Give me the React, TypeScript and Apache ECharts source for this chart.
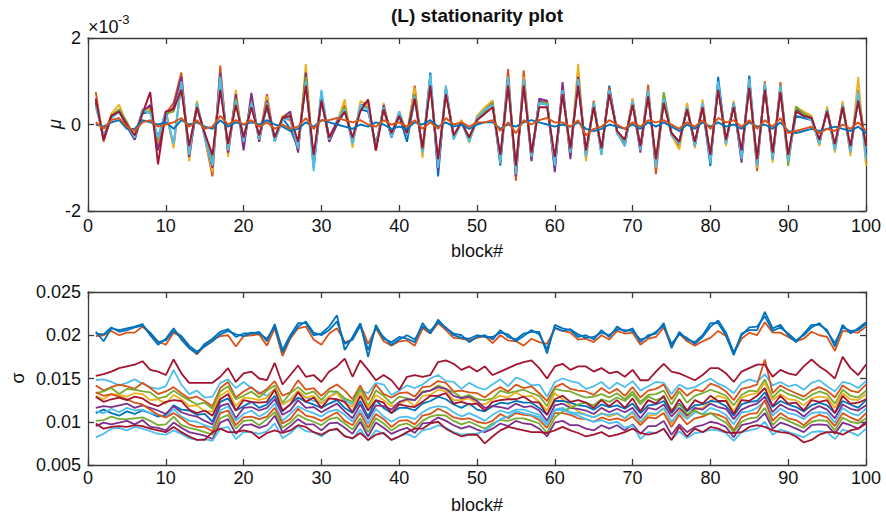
import React, { useEffect, useRef } from "react";
import * as echarts from "echarts";

// block numbers
const blocks = Array.from({ length: 100 }, (_, i) => i + 1);

// ---------- top panel: mu (units of 1e-3) ----------
const muBlue = [
  0.55, -0.35, 0.15, 0.3, -0.05, -0.35, 0.25, 0.3, -0.3, 0.3,
  -0.5, 0.95, -0.6, 0.45, -0.2, -0.85, 1.0, -0.6, 0.55, -0.3,
  0.45, -0.3, 0.4, -0.35, 0.15, -0.1, -0.55, 1.05, -0.95, 0.75,
  -0.35, 0.0, 0.3, -0.4, 0.35, 0.3, -0.45, 0.35, -0.3, 0.2,
  -0.4, 0.6, -0.6, 1.2, -1.2, 0.85, -0.3, 0.05, -0.35, 0.1,
  0.3, 0.5, -0.95, 1.0, -1.1, 0.95, -0.7, 0.55, 0.5, -1.0,
  0.75, -0.6, 1.0, -0.7, 0.5, -0.7, 0.9, -0.15, -0.45, 0.55,
  -0.55, 0.7, -0.9, 0.5, -0.2, -0.4, 0.35, -0.45, 0.4, -0.96,
  1.1, -0.4, 0.45, -0.8, 1.13, -0.9, 0.9, -0.75, 0.8, -0.8,
  0.2, 0.15, 0.1, -0.4, 0.3, -0.55, 0.4, -0.6, 0.8, -0.7,
];
const muOrange = [
  0.75, -0.4, 0.2, 0.35, 0.05, -0.3, 0.3, 0.4, -0.45, 0.25,
  0.5, 1.2, -0.7, 0.5, -0.3, -1.2, 1.36, -0.7, 0.6, -0.4,
  0.55, -0.35, 0.7, -0.4, 0.15, 0.1, -0.6, 1.2, -0.85, 0.6,
  -0.3, 0.05, 0.45, -0.45, 0.45, 0.4, -0.55, 0.4, -0.25, 0.3,
  -0.25, 0.9, -0.7, 1.0, -0.95, 0.8, -0.3, 0.1, -0.4, 0.15,
  0.35, 0.55, -0.9, 1.28, -1.3, 1.25, -0.8, 0.5, 0.55, -0.95,
  0.85, -0.7, 1.2, -0.75, 0.55, -0.65, 0.85, -0.2, -0.4, 0.6,
  -0.6, 0.92, -1.15, 0.6, -0.25, -0.5, 0.45, -0.5, 0.5, -0.8,
  0.9, -0.45, 0.5, -0.75, 1.0, -1.08, 1.0, -0.8, 0.98, -0.85,
  0.3, 0.2, 0.15, -0.45, 0.35, -0.6, 0.5, -0.65, 0.7, -0.5,
];
const muYellow = [
  0.6, -0.3, 0.25, 0.46, 0.0, -0.3, 0.35, 0.35, -0.5, 0.3,
  -0.55, 1.0, -0.85, 0.55, -0.3, -1.1, 1.2, -0.75, 0.8, -0.5,
  0.6, -0.4, 0.65, -0.4, 0.2, 0.25, -0.6, 1.4, -0.9, 0.7,
  -0.4, 0.05, 0.58, -0.54, 0.54, 0.45, -0.6, 0.5, -0.3, 0.3,
  -0.2, 0.85, -0.77, 1.1, -1.0, 0.9, -0.35, 0.1, -0.42, 0.2,
  0.4, 0.55, -0.8, 1.1, -1.2, 1.1, -0.75, 0.5, 0.5, -1.0,
  0.8, -0.75, 1.4, -0.85, 0.5, -0.7, 0.8, -0.2, -0.45, 0.6,
  -0.6, 0.8, -1.0, 0.7, -0.25, -0.58, 0.5, -0.55, 0.58, -0.8,
  0.9, -0.5, 0.55, -0.7, 1.0, -1.0, 0.95, -0.88, 0.85, -0.85,
  0.4, 0.3, 0.2, -0.5, 0.42, -0.65, 0.54, -0.73, 1.1, -0.96,
];
const muPurple = [
  0.5, -0.35, 0.2, 0.3, 0.0, -0.35, 0.3, 0.45, -0.6, 0.2,
  0.4, 1.1, -0.75, 0.4, -0.25, -1.0, 1.2, -0.65, 0.7, -0.6,
  0.73, -0.4, 0.55, -0.35, 0.15, 0.3, -0.65, 1.2, -1.0, 0.6,
  -0.4, 0.0, 0.4, -0.4, 0.4, 0.55, -0.6, 0.45, -0.3, 0.25,
  -0.25, 0.7, -0.6, 1.0, -1.05, 0.8, -0.3, 0.05, -0.3, 0.1,
  0.3, 0.5, -0.85, 1.1, -1.2, 1.0, -0.85, 0.6, 0.55, -1.1,
  0.98, -0.8, 1.1, -0.7, 0.45, -0.6, 0.8, -0.15, -0.5, 0.5,
  -0.65, 0.75, -0.95, 0.6, -0.2, -0.4, 0.4, -0.5, 0.45, -0.85,
  0.9, -0.4, 0.5, -0.88, 1.0, -0.95, 0.9, -0.8, 0.85, -0.8,
  0.35, 0.25, 0.15, -0.4, 0.35, -0.55, 0.45, -0.6, 0.6, -0.6,
];
const muGreen = [
  0.45, -0.3, 0.2, 0.35, 0.05, -0.3, 0.3, 0.3, -0.35, 0.25,
  0.3, 0.9, -0.6, 0.45, -0.25, -0.9, 1.0, -0.5, 0.6, -0.35,
  0.5, -0.3, 0.5, -0.3, 0.15, 0.2, -0.5, 1.1, -0.8, 0.55,
  -0.3, 0.05, 0.4, -0.35, 0.4, 0.4, -0.5, 0.4, -0.25, 0.25,
  -0.2, 0.7, -0.6, 0.95, -0.9, 0.75, -0.3, 0.05, -0.3, 0.15,
  0.3, 0.5, -0.8, 1.0, -1.0, 1.0, -0.7, 0.5, 0.5, -0.85,
  0.75, -0.6, 1.0, -0.65, 0.5, -0.6, 0.75, -0.15, -0.4, 0.5,
  -0.5, 0.7, -0.85, 0.75, -0.2, -0.45, 0.4, -0.45, 0.45, -0.75,
  0.85, -0.4, 0.45, -0.7, 0.9, -0.85, 0.85, -0.7, 0.8, -0.96,
  0.42, 0.25, 0.15, -0.45, 0.35, -0.5, 0.4, -0.55, 0.6, -0.55,
];
const muCyan = [
  0.4, -0.25, 0.15, 0.3, 0.0, -0.3, 0.35, 0.25, -0.3, 0.3,
  -0.45, 1.0, -0.7, 0.5, -0.3, -0.95, 1.1, -0.6, 0.55, -0.4,
  0.5, -0.35, 0.5, -0.4, 0.1, 0.15, -0.55, 1.0, -1.08, 0.8,
  -0.35, 0.1, 0.35, -0.45, 0.45, 0.35, -0.55, 0.4, -0.3, 0.3,
  -0.25, 0.65, -0.65, 1.15, -1.0, 0.9, -0.35, 0.05, -0.4, 0.15,
  0.35, 0.45, -0.9, 1.1, -1.15, 1.05, -0.75, 0.5, 0.45, -0.95,
  0.8, -0.65, 1.05, -0.75, 0.5, -0.7, 0.8, -0.2, -0.5, 0.55,
  -0.6, 0.8, -1.0, 0.6, -0.25, -0.45, 0.4, -0.5, 0.5, -0.9,
  1.0, -0.45, 0.5, -0.8, 1.05, -0.95, 0.95, -0.8, 0.9, -0.85,
  0.3, 0.2, 0.1, -0.45, 0.35, -0.6, 0.45, -0.65, 0.75, -0.8,
];
const muDarkRed = [
  0.6, -0.35, 0.2, 0.3, 0.0, -0.25, 0.25, 0.75, -0.92, 0.3,
  0.35, 0.8, -0.5, 0.4, -0.2, -0.7, 0.8, -0.45, 0.45, -0.3,
  0.4, -0.25, 0.45, -0.3, 0.15, 0.2, -0.4, 0.9, -0.7, 0.55,
  -0.3, 0.05, 0.3, -0.3, 0.3, 0.58, -0.6, 0.35, -0.2, 0.2,
  -0.2, 0.6, -0.55, 0.9, -0.8, 0.7, -0.25, 0.05, -0.3, 0.1,
  0.25, 0.4, -0.7, 0.9, -0.95, 0.9, -0.65, 0.4, 0.4, -0.75,
  0.7, -0.55, 0.9, -0.6, 0.4, -0.55, 0.7, -0.15, -0.35, 0.45,
  -0.5, 0.65, -0.8, 0.5, -0.2, -0.4, 0.35, -0.4, 0.4, -0.7,
  0.8, -0.35, 0.4, -0.6, 0.85, -0.8, 0.8, -0.65, 0.75, -0.7,
  0.3, 0.2, 0.15, -0.35, 0.3, -0.45, 0.4, -0.5, 0.55, -0.5,
];
const muFlatRed = [
  0.05, -0.1, 0.1, 0.15, -0.05, -0.15, 0.05, 0.1, -0.05, 0.0,
  0.05, 0.15, -0.05, 0.1, -0.1, -0.05, 0.2, 0.0, 0.1, 0.0,
  0.1, -0.05, 0.05, -0.1, 0.0, -0.1, -0.05, 0.15, -0.1, 0.1,
  0.1, 0.15, 0.1, 0.05, 0.1, 0.0, -0.05, 0.1, 0.0, 0.05,
  -0.05, 0.1, -0.1, 0.05, -0.1, 0.15, 0.0, 0.05, -0.05, 0.05,
  0.05, 0.1, -0.15, 0.05, -0.2, 0.1, 0.0, 0.1, 0.15, 0.05,
  0.05, -0.05, 0.1, -0.25, -0.1, -0.05, 0.1, 0.0, -0.1, 0.05,
  -0.05, 0.1, 0.05, 0.1, 0.0, -0.1, 0.05, -0.05, 0.1, -0.1,
  0.15, 0.05, 0.1, -0.05, 0.1, -0.1, 0.1, -0.05, 0.15, -0.2,
  -0.15, -0.1, -0.05, -0.2, -0.1, -0.15, 0.0, -0.1, 0.05, -0.15,
];
const muFlatBlue = [
  0.0, -0.05, 0.05, 0.1, -0.1, -0.1, 0.1, 0.05, 0.0, 0.05,
  -0.1, 0.1, 0.0, 0.05, -0.05, -0.1, 0.1, -0.05, 0.05, 0.0,
  0.05, 0.0, 0.1, 0.0, -0.05, -0.15, -0.1, 0.05, -0.05, 0.1,
  0.05, 0.0, -0.05, -0.1, 0.0, -0.05, 0.05, 0.0, -0.1, -0.05,
  -0.1, 0.05, 0.0, 0.1, -0.05, 0.05, -0.05, 0.0, -0.1, 0.0,
  0.05, 0.05, -0.1, 0.0, -0.05, 0.05, 0.1, 0.05, 0.0, -0.05,
  0.0, -0.05, 0.05, -0.1, -0.15, -0.1, 0.0, -0.05, -0.1, 0.0,
  -0.1, 0.05, -0.05, 0.05, -0.05, -0.15, 0.0, -0.1, 0.05, -0.05,
  0.05, -0.05, 0.0, -0.1, 0.05, -0.05, 0.0, -0.1, 0.05, -0.15,
  -0.2, -0.15, -0.1, -0.15, -0.1, -0.05, -0.1, -0.15, -0.05, -0.2,
];

// ---------- bottom panel: sigma (units of 1e-3) ----------
const sigBlueA = [
  20.4, 19.3, 20.8, 20.6, 20.8, 21.0, 21.3, 20.0, 18.9, 19.6,
  20.8, 19.5, 18.5, 17.9, 19.0, 19.6, 20.4, 20.7, 19.8, 20.2,
  20.2, 20.4, 19.3, 21.3, 18.3, 20.0, 21.4, 21.4, 20.0, 20.2,
  21.0, 22.3, 18.3, 19.8, 21.4, 17.5, 21.2, 19.6, 19.2, 19.8,
  19.6, 19.2, 21.4, 20.2, 21.8, 20.8, 20.2, 20.0, 19.2, 19.8,
  20.0, 19.5, 20.6, 19.8, 19.5, 20.2, 20.4, 20.4, 17.9, 21.2,
  20.8, 20.6, 19.8, 20.0, 19.5, 20.6, 19.8, 21.0, 20.4, 20.8,
  19.2, 20.0, 20.2, 21.4, 18.5, 20.4, 19.5, 19.2, 20.0, 21.4,
  21.4, 20.0, 17.7, 20.2, 20.6, 20.6, 22.7, 20.8, 21.2, 20.0,
  19.2, 20.2, 21.2, 21.2, 20.6, 18.7, 21.2, 20.2, 20.8, 21.5,
];
const sigBlueB = [
  20.2, 20.1, 20.9, 20.4, 20.6, 20.9, 21.1, 20.3, 19.2, 19.4,
  20.5, 19.9, 18.8, 18.1, 18.7, 19.3, 20.1, 20.5, 20.1, 19.9,
  20.3, 20.2, 19.6, 21.0, 18.0, 19.8, 21.0, 21.6, 20.3, 20.0,
  20.6, 21.6, 19.0, 19.5, 21.1, 18.3, 20.9, 19.8, 18.9, 19.5,
  20.0, 19.5, 21.0, 20.5, 21.5, 20.9, 20.0, 19.7, 19.6, 20.0,
  19.8, 19.8, 20.3, 20.1, 19.3, 19.9, 20.6, 20.1, 18.4, 20.9,
  20.5, 20.7, 20.1, 19.7, 19.8, 20.3, 20.0, 20.7, 20.6, 20.5,
  19.5, 19.8, 20.4, 21.1, 19.0, 20.1, 19.7, 19.0, 19.8, 21.0,
  21.7, 20.3, 18.0, 20.0, 20.9, 21.0, 22.2, 20.5, 20.9, 20.2,
  19.4, 20.0, 20.9, 21.4, 20.4, 19.1, 20.9, 20.5, 20.6, 21.3,
];
const sigOrangeTop = [
  19.9, 20.0, 20.5, 20.0, 20.3, 20.3, 21.0, 20.2, 19.3, 18.9,
  20.3, 19.8, 18.6, 17.8, 18.8, 19.5, 19.9, 20.0, 18.7, 19.9,
  20.0, 20.1, 18.8, 20.8, 17.6, 19.6, 20.8, 21.0, 19.5, 18.9,
  20.2, 20.8, 19.2, 19.5, 21.3, 19.0, 20.8, 19.3, 18.8, 19.3,
  19.4, 18.8, 20.8, 20.2, 21.4, 20.6, 19.7, 19.6, 19.4, 19.7,
  19.9, 19.1, 20.0, 19.4, 19.3, 18.8, 19.6, 19.2, 19.0, 20.8,
  20.5, 20.3, 19.5, 19.6, 19.2, 20.0, 19.5, 20.5, 20.2, 20.3,
  18.9, 19.6, 19.8, 20.9, 18.7, 20.2, 19.3, 18.8, 19.3, 19.7,
  20.5, 19.9, 17.9, 19.6, 20.3, 20.0, 21.5, 20.3, 20.3, 19.8,
  19.3, 19.6, 20.4, 20.0, 19.8, 18.2, 20.5, 20.4, 20.3, 21.0,
];
const sigRedHigh = [
  15.3, 15.5, 15.8, 16.2, 16.4, 16.6, 17.0, 16.0, 15.8, 15.4,
  17.2, 15.6, 14.5, 14.5, 14.5, 14.5, 15.2, 16.2, 14.6, 15.6,
  15.8, 15.0, 14.8, 16.8, 14.3, 15.4, 16.5, 15.2, 15.4, 14.6,
  15.8, 16.4, 17.3, 15.2, 17.1, 16.0, 14.8, 15.4, 14.8, 13.7,
  15.2, 15.4, 15.2, 15.4, 16.9, 17.1, 16.7, 16.0, 16.4, 15.8,
  16.4, 15.4, 15.8, 16.2, 16.6, 16.9, 17.1, 16.2, 15.0, 16.4,
  16.7, 16.0, 16.4, 16.4, 15.8, 16.2, 15.6, 15.8, 15.2, 16.0,
  14.8, 14.8, 15.8, 16.7, 15.8, 15.6, 15.2, 14.8, 15.4, 16.2,
  16.2, 15.6, 14.6, 15.8, 16.2, 16.6, 16.6, 15.2, 16.0, 15.6,
  15.4, 16.4, 17.2, 16.4, 15.8, 15.0, 17.5, 16.2, 15.4, 16.6,
];
const sigCyanA = [
  14.8, 14.9, 14.6, 14.2, 14.5, 14.9, 14.4, 14.0, 13.8, 14.1,
  16.0, 14.3, 13.2, 13.6, 12.8, 12.9, 14.5, 14.9, 13.9, 14.6,
  13.9, 13.4, 13.0, 13.8, 12.0, 12.6, 13.5, 12.8, 12.4, 12.2,
  12.9, 13.5, 12.5, 12.0, 13.6, 13.3, 14.5, 14.3, 13.1, 13.6,
  14.2, 13.9, 14.3, 15.0, 15.4, 14.7, 14.6, 13.8, 14.5, 14.0,
  13.7, 14.3, 14.9, 14.1, 15.1, 14.8, 14.2, 14.3, 12.9, 14.6,
  15.0, 14.7, 14.5, 13.8, 14.1, 14.6, 13.8, 14.5, 14.0, 14.7,
  13.6, 14.1, 14.6, 14.5, 13.2, 14.3, 13.8, 14.0, 14.5, 15.0,
  14.4, 14.0, 13.3, 14.5, 14.9, 14.6, 15.5, 14.2, 14.6, 14.1,
  14.3, 13.7, 14.5, 14.8, 14.1, 13.5, 14.6, 14.4, 13.9, 14.7,
];
const sigOrangeA = [
  14.2, 13.6, 14.0, 14.3, 14.1, 13.8, 14.5, 13.9, 13.2, 13.5,
  14.0, 13.3, 12.7, 12.9, 12.4, 11.8, 13.9, 14.6, 12.8, 13.5,
  14.0, 13.2, 13.8, 14.7, 13.0, 13.4, 14.8, 13.7, 13.9, 13.0,
  13.8, 14.3, 13.6, 12.6, 14.2, 12.5, 14.3, 13.2, 12.8, 13.3,
  13.4, 12.9, 14.0, 14.1, 14.7, 14.5, 13.5, 13.6, 13.4, 13.3,
  12.8, 13.5, 14.0, 13.5, 14.3, 13.9, 14.1, 13.3, 12.4, 14.0,
  14.4, 13.8, 13.6, 13.5, 13.1, 13.9, 13.3, 13.8, 13.0, 14.0,
  12.8, 13.6, 13.8, 14.3, 12.6, 13.9, 13.0, 13.7, 13.5, 14.4,
  14.1, 13.5, 12.5, 13.8, 14.0, 14.3, 17.2, 13.3, 14.2, 13.7,
  13.3, 12.9, 13.6, 14.0, 13.6, 12.8, 14.2, 13.6, 13.4, 14.3,
];
const sigGreenA = [
  13.3, 13.5, 13.9, 13.2, 13.8, 13.7, 13.5, 13.4, 12.7, 12.9,
  13.6, 13.0, 12.5, 12.0, 12.2, 11.5, 13.5, 14.1, 12.6, 13.0,
  13.5, 12.8, 13.6, 14.2, 12.2, 13.3, 14.0, 13.2, 13.5, 12.5,
  13.5, 13.5, 12.7, 12.3, 13.9, 11.8, 13.6, 13.0, 12.1, 12.9,
  12.7, 12.5, 13.5, 13.6, 14.2, 13.8, 13.4, 12.8, 13.1, 12.6,
  12.5, 12.7, 13.6, 13.3, 13.5, 13.7, 13.3, 13.0, 11.8, 13.8,
  13.6, 13.5, 13.1, 12.8, 12.9, 13.2, 12.8, 13.3, 12.6, 13.5,
  12.3, 13.1, 13.2, 13.6, 12.0, 13.5, 12.2, 13.0, 13.3, 13.7,
  13.4, 13.0, 11.9, 13.1, 13.6, 13.5, 14.9, 12.8, 13.7, 13.2,
  12.9, 12.5, 13.1, 13.5, 13.2, 12.1, 13.7, 13.0, 12.8, 13.6,
];
const sigYellowA = [
  13.0, 12.6, 13.2, 13.1, 12.9, 13.3, 13.2, 12.5, 12.6, 12.1,
  13.1, 12.6, 11.8, 11.9, 11.2, 11.2, 13.0, 13.6, 11.8, 12.8,
  12.7, 12.5, 12.8, 13.8, 12.0, 12.5, 13.6, 12.8, 13.0, 12.1,
  12.9, 13.3, 12.2, 11.7, 13.4, 11.6, 13.1, 12.5, 11.8, 12.1,
  12.5, 11.8, 13.0, 13.1, 13.7, 13.5, 12.5, 12.5, 12.7, 12.1,
  12.0, 12.6, 13.0, 12.8, 13.4, 12.9, 13.0, 12.3, 11.3, 13.3,
  12.6, 11.9, 11.2, 10.8, 10.5, 11.0, 10.6, 10.9, 10.4, 11.0,
  9.9, 10.7, 10.8, 11.5, 9.8, 11.3, 10.5, 11.4, 11.6, 12.4,
  13.0, 12.7, 11.2, 12.8, 13.1, 13.3, 14.5, 12.5, 13.2, 12.6,
  12.5, 11.9, 12.7, 12.9, 12.8, 11.6, 13.3, 12.6, 12.5, 13.2,
];
const sigRedMid = [
  12.9, 12.3, 12.6, 12.8, 12.5, 12.9, 12.7, 12.1, 11.8, 12.3,
  12.5, 12.4, 11.4, 11.0, 11.3, 10.7, 12.6, 13.2, 11.3, 12.5,
  12.3, 12.2, 12.3, 13.7, 11.3, 12.0, 13.4, 12.3, 12.8, 11.6,
  12.7, 12.6, 12.3, 11.1, 13.0, 11.3, 12.5, 12.2, 11.0, 12.0,
  11.8, 11.7, 12.3, 13.0, 13.0, 13.3, 12.1, 12.3, 12.0, 12.1,
  11.3, 12.3, 12.5, 12.6, 12.6, 12.9, 12.3, 12.2, 10.8, 12.6,
  13.0, 12.3, 12.5, 12.2, 11.6, 12.5, 11.8, 12.5, 11.6, 12.7,
  11.2, 12.5, 12.1, 13.0, 11.1, 12.6, 11.3, 12.5, 12.1, 13.0,
  12.4, 12.4, 10.9, 12.5, 12.4, 13.0, 13.9, 11.8, 13.0, 12.1,
  12.2, 11.3, 12.5, 12.3, 12.5, 11.0, 13.0, 12.1, 12.2, 12.6,
];
const sigBlueMid = [
  11.0, 11.4, 11.0, 10.7, 11.2, 10.9, 11.3, 11.0, 10.6, 10.8,
  11.9, 11.4, 11.3, 10.8, 10.9, 10.0, 12.3, 12.7, 11.3, 11.8,
  12.3, 11.6, 12.0, 13.0, 11.2, 12.0, 12.8, 12.3, 12.0, 11.6,
  12.1, 12.5, 11.6, 11.0, 12.4, 10.6, 12.5, 11.6, 11.0, 11.6,
  11.6, 11.3, 12.1, 12.4, 12.9, 12.6, 12.0, 11.6, 12.1, 11.4,
  11.2, 11.8, 12.2, 12.1, 12.4, 12.2, 12.2, 11.6, 10.8, 12.4,
  12.4, 12.2, 11.9, 11.8, 11.4, 12.0, 11.7, 11.9, 11.5, 12.1,
  11.0, 11.9, 12.0, 12.4, 11.0, 12.1, 11.2, 11.9, 12.0, 12.4,
  12.3, 11.8, 10.7, 12.0, 12.3, 12.4, 13.4, 11.7, 12.4, 12.0,
  11.7, 11.2, 11.9, 12.2, 11.9, 11.0, 12.4, 12.0, 11.6, 12.5,
];
const sigPurpleA = [
  11.6, 11.8, 11.7, 11.9, 12.1, 11.6, 11.9, 11.6, 11.3, 10.9,
  11.8, 11.1, 10.8, 10.6, 10.1, 9.7, 11.8, 12.1, 10.4, 11.6,
  11.7, 11.3, 11.6, 12.6, 10.8, 11.3, 12.5, 11.6, 11.7, 11.1,
  11.6, 12.1, 11.2, 10.4, 12.0, 10.3, 11.9, 11.8, 11.4, 12.3,
  12.6, 12.5, 13.4, 13.6, 14.0, 13.8, 13.0, 12.7, 12.9, 12.4,
  11.6, 11.8, 11.7, 11.5, 12.1, 11.7, 11.8, 11.3, 10.1, 11.9,
  12.1, 11.6, 11.5, 11.3, 10.9, 11.6, 11.1, 11.5, 11.1, 11.6,
  10.4, 11.6, 11.4, 12.0, 10.6, 11.6, 10.7, 11.6, 11.4, 12.1,
  11.7, 11.5, 10.3, 11.4, 11.8, 12.1, 12.9, 11.1, 12.0, 11.5,
  11.3, 10.6, 11.4, 11.8, 11.4, 10.4, 12.0, 11.5, 11.3, 11.9,
];
const sigCyanB = [
  11.2, 11.0, 11.5, 11.1, 11.6, 11.3, 11.4, 11.0, 10.8, 10.5,
  11.5, 10.6, 10.1, 10.0, 9.6, 9.3, 11.3, 11.8, 10.1, 10.9,
  11.3, 10.6, 11.1, 12.1, 10.1, 10.9, 11.8, 11.3, 11.0, 10.6,
  11.2, 11.4, 10.8, 10.0, 11.4, 9.8, 11.5, 10.6, 10.0, 10.5,
  10.6, 10.3, 11.1, 11.6, 11.8, 11.7, 11.1, 10.6, 11.0, 10.6,
  10.1, 10.8, 11.3, 11.0, 11.4, 11.4, 11.1, 10.8, 9.8, 11.4,
  11.6, 11.1, 11.0, 10.8, 10.5, 10.9, 10.8, 11.0, 10.4, 11.2,
  10.0, 11.0, 10.9, 11.6, 10.0, 11.1, 10.3, 11.1, 10.9, 11.6,
  11.3, 10.8, 9.7, 11.1, 11.2, 11.6, 12.4, 10.7, 11.5, 11.0,
  10.8, 10.3, 11.0, 11.1, 11.0, 9.9, 11.6, 11.0, 10.7, 11.5,
];
const sigOrangeB = [
  13.4, 13.0, 13.2, 12.9, 12.6, 12.2, 12.0, 11.4, 10.8, 10.5,
  11.0, 10.4, 9.7, 9.4, 9.4, 8.9, 11.0, 11.3, 9.6, 10.5,
  10.6, 10.3, 10.6, 11.6, 9.8, 10.3, 11.5, 10.7, 10.5, 10.1,
  10.6, 11.1, 10.1, 9.6, 11.0, 9.3, 10.9, 10.3, 9.4, 10.1,
  10.2, 9.7, 10.7, 10.9, 11.5, 11.1, 10.5, 10.3, 10.4, 10.0,
  9.8, 10.1, 10.9, 10.4, 11.0, 10.8, 10.7, 10.2, 9.3, 11.0,
  11.0, 10.8, 10.4, 10.3, 10.0, 10.5, 10.2, 10.4, 10.1, 10.6,
  9.6, 10.5, 10.4, 11.0, 9.4, 10.8, 9.7, 10.4, 10.6, 11.0,
  10.8, 10.4, 9.0, 10.5, 10.9, 11.0, 12.5, 10.1, 11.0, 10.4,
  10.2, 9.6, 10.4, 10.8, 10.5, 9.5, 11.0, 10.5, 10.1, 11.0,
];
const sigGreenB = [
  10.1, 10.2, 10.6, 10.3, 10.3, 10.4, 10.5, 10.1, 9.6, 9.7,
  10.6, 9.6, 9.3, 9.1, 8.8, 8.5, 10.4, 10.8, 9.2, 10.1,
  10.2, 9.6, 10.3, 11.1, 9.3, 9.9, 10.8, 10.3, 10.0, 9.6,
  10.3, 10.5, 9.8, 9.1, 10.4, 8.8, 10.4, 9.8, 9.0, 9.6,
  9.8, 9.3, 10.1, 10.6, 10.8, 10.7, 10.1, 9.7, 10.0, 9.6,
  9.2, 9.8, 10.2, 10.1, 10.4, 10.4, 10.1, 9.8, 8.7, 10.5,
  11.2, 11.6, 12.0, 12.2, 11.9, 12.6, 12.3, 12.8, 12.4, 13.2,
  12.0, 12.9, 12.5, 12.8, 11.4, 12.0, 10.9, 11.3, 10.8, 11.0,
  10.4, 9.9, 8.8, 10.0, 10.4, 10.5, 11.6, 9.6, 10.5, 10.1,
  9.7, 9.3, 10.0, 10.2, 10.1, 9.0, 10.5, 10.0, 9.8, 10.4,
];
const sigPurpleB = [
  9.5, 9.9, 9.7, 9.9, 10.1, 9.7, 10.2, 9.4, 9.3, 9.0,
  9.9, 9.3, 8.8, 8.6, 8.4, 8.0, 9.9, 10.3, 8.6, 9.6,
  9.7, 9.3, 9.6, 10.7, 8.8, 9.5, 10.3, 9.7, 9.7, 9.0,
  9.8, 9.9, 9.3, 8.6, 10.0, 8.3, 9.9, 9.3, 8.6, 9.0,
  9.3, 8.7, 9.8, 9.9, 10.5, 10.1, 9.6, 9.2, 9.5, 9.1,
  8.8, 9.2, 9.8, 9.5, 10.1, 9.8, 9.7, 9.2, 8.3, 9.9,
  10.1, 9.6, 9.6, 9.2, 9.0, 9.6, 9.2, 9.6, 9.0, 9.7,
  8.6, 9.5, 9.5, 10.1, 8.5, 9.7, 8.8, 9.4, 9.6, 10.0,
  9.8, 9.4, 8.2, 9.6, 9.8, 10.1, 11.0, 9.2, 9.9, 9.6,
  9.2, 8.8, 9.6, 9.7, 9.6, 8.6, 9.9, 9.6, 9.2, 10.0,
];
const sigCyanC = [
  8.2, 8.6, 9.2, 9.3, 9.0, 9.4, 9.2, 8.9, 8.6, 8.5,
  9.0, 8.6, 8.1, 7.9, 8.0, 7.8, 9.2, 9.4, 8.0, 8.8,
  8.8, 8.6, 8.9, 9.8, 8.1, 8.7, 9.5, 8.9, 8.8, 8.3,
  9.0, 9.1, 8.4, 8.0, 9.2, 7.8, 9.0, 8.6, 7.9, 8.3,
  8.6, 8.2, 9.0, 9.2, 9.6, 9.3, 8.8, 8.5, 8.6, 8.6,
  9.0, 9.6, 10.3, 10.6, 11.2, 11.0, 10.8, 10.5, 9.6, 11.3,
  11.4, 11.0, 10.7, 10.3, 10.0, 10.2, 9.8, 10.0, 9.3, 9.6,
  8.0, 8.8, 8.7, 9.2, 7.9, 8.9, 8.1, 8.7, 8.8, 9.1,
  9.0, 8.7, 7.8, 8.8, 9.0, 9.2, 10.0, 8.5, 9.1, 8.8,
  8.5, 8.2, 8.8, 8.9, 8.8, 8.0, 9.1, 8.8, 8.4, 9.2,
];
const sigRedLow = [
  9.8, 9.2, 9.4, 9.5, 9.4, 9.6, 9.5, 9.2, 9.0, 8.8,
  9.4, 8.8, 8.3, 7.9, 7.9, 8.8, 9.2, 8.8, 8.8, 9.0,
  8.8, 8.1, 8.7, 9.0, 8.7, 9.0, 9.6, 9.4, 8.8, 8.5,
  9.0, 9.2, 8.3, 8.1, 8.7, 7.9, 8.5, 8.7, 7.9, 8.3,
  8.8, 9.2, 9.2, 9.8, 10.0, 9.2, 8.7, 8.3, 8.5, 8.5,
  7.5, 8.3, 9.0, 9.4, 9.2, 9.0, 8.8, 8.8, 8.7, 9.0,
  9.4, 9.0, 8.7, 8.3, 8.5, 8.8, 8.3, 8.5, 8.8, 9.2,
  8.7, 8.5, 8.7, 9.2, 7.9, 9.4, 8.3, 9.2, 8.8, 9.4,
  9.2, 8.8, 8.7, 8.8, 9.4, 9.6, 9.4, 9.0, 8.8, 8.7,
  8.3, 7.6, 7.9, 8.5, 8.8, 8.8, 8.5, 9.0, 9.2, 9.8,
];

const C_BLUE = "#0072BD";
const C_ORANGE = "#D95319";
const C_YELLOW = "#EDB120";
const C_PURPLE = "#7E2F8E";
const C_GREEN = "#77AC30";
const C_CYAN = "#4DBEEE";
const C_RED = "#A2142F";

const muSeries: [number[], string][] = [
  [muBlue, C_BLUE],
  [muOrange, C_ORANGE],
  [muYellow, C_YELLOW],
  [muPurple, C_PURPLE],
  [muGreen, C_GREEN],
  [muCyan, C_CYAN],
  [muDarkRed, C_RED],
  [muFlatBlue, C_BLUE],
  [muFlatRed, C_ORANGE],
];
const sigmaSeries: [number[], string][] = [
  [sigCyanA, C_CYAN],
  [sigOrangeA, C_ORANGE],
  [sigGreenA, C_GREEN],
  [sigYellowA, C_YELLOW],
  [sigBlueMid, C_BLUE],
  [sigPurpleA, C_PURPLE],
  [sigCyanB, C_CYAN],
  [sigOrangeB, C_ORANGE],
  [sigGreenB, C_GREEN],
  [sigPurpleB, C_PURPLE],
  [sigCyanC, C_CYAN],
  [sigRedMid, C_RED],
  [sigRedHigh, C_RED],
  [sigRedLow, C_RED],
  [sigOrangeTop, C_ORANGE],
  [sigBlueB, C_BLUE],
  [sigBlueA, C_BLUE],
];

const FONT = "'Liberation Sans', Arial, Helvetica, sans-serif";
const AX = "#3a3a3a";

function boxAxes(grid: number, min: number, max: number, interval: number, kind: "x" | "y", labelMargin: number, fmt?: (v: number) => string) {
  const common = {
    gridIndex: grid,
    type: "value",
    min,
    max,
    interval,
    splitLine: { show: false },
    axisLine: { show: true, onZero: false, lineStyle: { color: AX, width: 1.3 } },
    axisTick: { show: true, inside: true, length: 6, lineStyle: { color: AX, width: 1.3 } },
  };
  const main = {
    ...common,
    position: kind === "x" ? "bottom" : "left",
    axisLabel: {
      show: true,
      margin: labelMargin,
      color: "#111",
      fontSize: 18,
      fontFamily: FONT,
      formatter: fmt,
    },
  };
  const mirror = {
    ...common,
    position: kind === "x" ? "top" : "right",
    axisLabel: { show: false },
  };
  return [main, mirror];
}

export default function App() {
  const ref = useRef<HTMLDivElement>(null);
  useEffect(() => {
    if (!ref.current) return;
    const chart = echarts.init(ref.current, undefined, { renderer: "svg" });

    const series: any[] = [];
    muSeries.forEach(([arr, color]) => {
      series.push({
        type: "line",
        xAxisIndex: 0,
        yAxisIndex: 0,
        data: blocks.map((b, i) => [b, arr[i]]),
        showSymbol: false,
        symbol: "none",
        lineStyle: { color, width: 1.9 },
        silent: true,
      });
    });
    sigmaSeries.forEach(([arr, color]) => {
      series.push({
        type: "line",
        xAxisIndex: 2,
        yAxisIndex: 2,
        data: blocks.map((b, i) => [b, arr[i]]),
        showSymbol: false,
        symbol: "none",
        lineStyle: { color, width: 1.8 },
        silent: true,
      });
    });

    const textStyle = (extra: any) => ({
      fill: "#111",
      fontFamily: FONT,
      fontSize: 18,
      textAlign: "center",
      textVerticalAlign: "middle",
      ...extra,
    });

    chart.setOption({
      animation: false,
      backgroundColor: "#ffffff",
      grid: [
        { left: 88, right: 20, top: 38, height: 173, containLabel: false },
        { left: 88, right: 20, top: 292, height: 173, containLabel: false },
      ],
      xAxis: [
        ...boxAxes(0, 0, 100, 10, "x", 6),
        ...boxAxes(1, 0, 100, 10, "x", 4),
      ],
      yAxis: [
        ...boxAxes(0, -2, 2, 2, "y", 7),
        ...boxAxes(1, 5, 25, 5, "y", 7, (v: number) => String(v / 1000)),
      ],
      series,
      graphic: [
        { type: "text", x: 477, y: 15, style: textStyle({ text: "(L) stationarity plot", fontWeight: "bold", fontSize: 19 }) },
        { type: "text", x: 88, y: 27, style: textStyle({ text: "×10", textAlign: "left" }) },
        { type: "text", x: 118, y: 19, style: textStyle({ text: "-3", textAlign: "left", fontSize: 13 }) },
        { type: "text", x: 55, y: 124, rotation: Math.PI / 2, style: textStyle({ text: "μ", fontStyle: "italic" }) },
        { type: "text", x: 18, y: 378, rotation: Math.PI / 2, style: textStyle({ text: "σ" }) },
        { type: "text", x: 477, y: 251, style: textStyle({ text: "block#" }) },
        { type: "text", x: 477, y: 505, style: textStyle({ text: "block#" }) },
      ],
    });
    return () => chart.dispose();
  }, []);
  return (
    <div
      ref={ref}
      style={{ position: "fixed", left: 0, top: 0, width: 886, height: 519, background: "#fff" }}
    />
  );
}
